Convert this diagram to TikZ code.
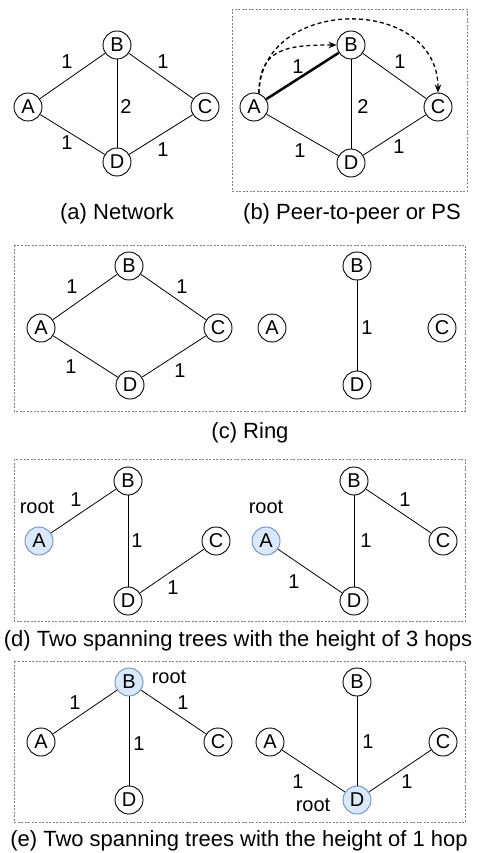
\documentclass[tikz,border=0pt]{standalone}
\usepackage{fontspec}
\setmainfont{Liberation Sans}
\usetikzlibrary{arrows.meta}
\definecolor{rootfill}{HTML}{DAE8FC}
\definecolor{rootline}{HTML}{6C8EBF}
\begin{document}
\begin{tikzpicture}[x=1pt,y=-1pt,
  vtx/.style={circle,draw,line width=0.9pt,minimum size=28pt,inner sep=0pt,
              fill=white,font=\fontsize{20}{20}\selectfont},
  rootvtx/.style={vtx,fill=rootfill,draw=rootline},
  wt/.style={inner sep=0pt,font=\fontsize{20}{20}\selectfont},
  subcap/.style={inner sep=0pt,anchor=base,font=\fontsize{22}{24}\selectfont},
  link/.style={line width=0.8pt},
  heavy/.style={line width=2.5pt},
  panel/.style={draw=gray,line width=0.6pt,dash pattern=on 2pt off 1.5pt},
  msg/.style={line width=1.3pt,dash pattern=on 4pt off 3pt,
              -{Stealth[length=8pt,width=6.5pt]}}
]
\fill[white] (0,0) rectangle (477,853);
\useasboundingbox (0,0) rectangle (477,853);

% ---------- (a) Network ----------
\node[vtx] (aA) at (28,107) {A};
\node[vtx] (aB) at (117,45) {B};
\node[vtx] (aC) at (205,107) {C};
\node[vtx] (aD) at (117,162) {D};
\draw[link] (aA) -- (aB);
\draw[link] (aB) -- (aC);
\draw[link] (aA) -- (aD);
\draw[link] (aD) -- (aC);
\draw[link] (aB) -- (aD);
\node[wt] (aw1) at (67,62) {1};
\node[wt] (aw2) at (163,62) {1};
\node[wt] (aw3) at (126,107) {2};
\node[wt] (aw4) at (67,143) {1};
\node[wt] (aw5) at (163,150) {1};
\node[subcap] (acap) at (117,219) {(a) Network};

% ---------- (b) Peer-to-peer or PS ----------
\draw[panel] (232,9) rectangle (467,191);
\node[vtx] (bA) at (254,107) {A};
\node[vtx] (bB) at (351,45) {B};
\node[vtx] (bC) at (438,107) {C};
\node[vtx] (bD) at (351,163) {D};
\draw[heavy] (bA) -- (bB);
\draw[link] (bB) -- (bC);
\draw[link] (bA) -- (bD);
\draw[link] (bD) -- (bC);
\draw[link] (bB) -- (bD);
\node[wt] (bw1) at (298,67) {1};
\node[wt] (bw2) at (400,62) {1};
\node[wt] (bw3) at (363,107) {2};
\node[wt] (bw4) at (300,151) {1};
\node[wt] (bw5) at (399,147) {1};
\draw[msg] (bA.70) .. controls +(0,-45) and +(-50,0) .. (bB.west);
\draw[msg] (bA.70) .. controls +(2,-98) and +(0,-98) .. (bC.north);
\node[subcap] (bcap) at (352,219.5) {(b) Peer-to-peer or PS};

% ---------- (c) Ring ----------
\draw[panel] (14,245) rectangle (465,411);
\node[vtx] (cA) at (41,328) {A};
\node[vtx] (cB) at (129,266) {B};
\node[vtx] (cC) at (218,328) {C};
\node[vtx] (cD) at (130,385) {D};
\draw[link] (cA) -- (cB);
\draw[link] (cB) -- (cC);
\draw[link] (cA) -- (cD);
\draw[link] (cD) -- (cC);
\node[wt] (cw1) at (72,287) {1};
\node[wt] (cw2) at (182,287) {1};
\node[wt] (cw3) at (71,367) {1};
\node[wt] (cw4) at (180,371) {1};
\node[vtx] (cA2) at (272,328) {A};
\node[vtx] (cB2) at (357,266) {B};
\node[vtx] (cC2) at (442,328) {C};
\node[vtx] (cD2) at (357,385) {D};
\draw[link] (cB2) -- (cD2);
\node[wt] (cw5) at (367,328) {1};
\node[subcap] (ccap) at (250,438) {(c) Ring};

% ---------- (d) spanning trees, 3 hops ----------
\draw[panel] (14,459) rectangle (465,621);
\node[rootvtx] (dA) at (39,541) {A};
\node[vtx] (dB) at (128,481) {B};
\node[vtx] (dC) at (216,541) {C};
\node[vtx] (dD) at (128,601) {D};
\draw[link] (dA) -- (dB);
\draw[link] (dB) -- (dD);
\draw[link] (dD) -- (dC);
\node[wt] (dr1) at (37,507) {root};
\node[wt] (dw1) at (76,500) {1};
\node[wt] (dw2) at (137,541) {1};
\node[wt] (dw3) at (173,588) {1};
\node[rootvtx] (dA2) at (266,541) {A};
\node[vtx] (dB2) at (354,481) {B};
\node[vtx] (dC2) at (443,541) {C};
\node[vtx] (dD2) at (354,601) {D};
\draw[link] (dB2) -- (dC2);
\draw[link] (dB2) -- (dD2);
\draw[link] (dA2) -- (dD2);
\node[wt] (dr2) at (266,507) {root};
\node[wt] (dw4) at (405,500) {1};
\node[wt] (dw5) at (366,541) {1};
\node[wt] (dw6) at (294,582) {1};
\node[subcap] (dcap) at (238,646) {(d) Two spanning trees with the height of 3 hops};

% ---------- (e) spanning trees, 1 hop ----------
\draw[panel] (14,661) rectangle (465,822);
\node[rootvtx] (eB) at (129,682) {B};
\node[vtx] (eA) at (41,742) {A};
\node[vtx] (eC) at (218,742) {C};
\node[vtx] (eD) at (129,800) {D};
\draw[link] (eA) -- (eB);
\draw[link] (eB) -- (eC);
\draw[link] (eB) -- (eD);
\node[wt] (er1) at (169,677) {root};
\node[wt] (ew1) at (75,703) {1};
\node[wt] (ew2) at (183,703) {1};
\node[wt] (ew3) at (139,744) {1};
\node[vtx] (eB2) at (357,682) {B};
\node[vtx] (eA2) at (270,742) {A};
\node[vtx] (eC2) at (443,742) {C};
\node[rootvtx] (eD2) at (357,800) {D};
\draw[link] (eB2) -- (eD2);
\draw[link] (eA2) -- (eD2);
\draw[link] (eD2) -- (eC2);
\node[wt] (er2) at (313,805) {root};
\node[wt] (ew4) at (368,742) {1};
\node[wt] (ew5) at (298,782) {1};
\node[wt] (ew6) at (407,782) {1};
\node[subcap] (ecap) at (239,846) {(e) Two spanning trees with the height of 1 hop};
\end{tikzpicture}
\end{document}
